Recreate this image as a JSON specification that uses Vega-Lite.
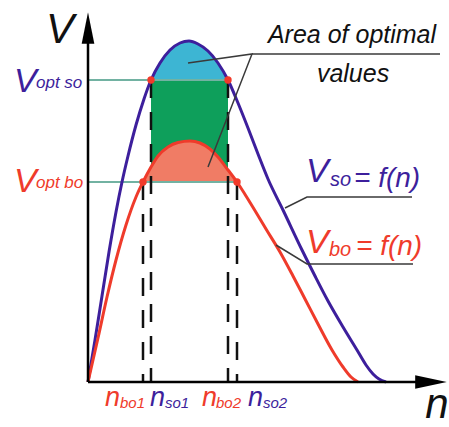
{
  "$schema": "https://vega.github.io/schema/vega-lite/v6.json",
  "width": 449,
  "height": 427,
  "autosize": {"type": "none"},
  "padding": 0,
  "background": "white",
  "config": {
    "view": {"stroke": null},
    "text": {"font": "Liberation Sans", "fontStyle": "italic", "baseline": "alphabetic", "align": "left"}
  },
  "datasets": {
    "curves": [
      {"curve": "so", "n": 0, "V": 0}, {"curve": "so", "n": 7, "V": 42}, {"curve": "so", "n": 14, "V": 86},
      {"curve": "so", "n": 21, "V": 130}, {"curve": "so", "n": 28, "V": 170}, {"curve": "so", "n": 34, "V": 200},
      {"curve": "so", "n": 40, "V": 226}, {"curve": "so", "n": 48, "V": 257}, {"curve": "so", "n": 56, "V": 283},
      {"curve": "so", "n": 63, "V": 302}, {"curve": "so", "n": 72, "V": 319}, {"curve": "so", "n": 82, "V": 332},
      {"curve": "so", "n": 92, "V": 339}, {"curve": "so", "n": 101, "V": 341}, {"curve": "so", "n": 110, "V": 338},
      {"curve": "so", "n": 120, "V": 331}, {"curve": "so", "n": 130, "V": 319}, {"curve": "so", "n": 140, "V": 302},
      {"curve": "so", "n": 150, "V": 279}, {"curve": "so", "n": 160, "V": 254}, {"curve": "so", "n": 170, "V": 228},
      {"curve": "so", "n": 180, "V": 203}, {"curve": "so", "n": 195, "V": 172}, {"curve": "so", "n": 214, "V": 132},
      {"curve": "so", "n": 227, "V": 106}, {"curve": "so", "n": 240, "V": 81}, {"curve": "so", "n": 255, "V": 55},
      {"curve": "so", "n": 269, "V": 32}, {"curve": "so", "n": 278, "V": 17}, {"curve": "so", "n": 285, "V": 8},
      {"curve": "so", "n": 291, "V": 3}, {"curve": "so", "n": 298, "V": 0},
      {"curve": "bo", "n": 0, "V": 0}, {"curve": "bo", "n": 10, "V": 44}, {"curve": "bo", "n": 19, "V": 85},
      {"curve": "bo", "n": 28, "V": 122}, {"curve": "bo", "n": 38, "V": 157}, {"curve": "bo", "n": 48, "V": 185},
      {"curve": "bo", "n": 55, "V": 200}, {"curve": "bo", "n": 63, "V": 215}, {"curve": "bo", "n": 70, "V": 226},
      {"curve": "bo", "n": 80, "V": 235}, {"curve": "bo", "n": 90, "V": 239.5}, {"curve": "bo", "n": 102, "V": 241},
      {"curve": "bo", "n": 112, "V": 239}, {"curve": "bo", "n": 122, "V": 233}, {"curve": "bo", "n": 130, "V": 225},
      {"curve": "bo", "n": 140, "V": 212}, {"curve": "bo", "n": 149, "V": 200}, {"curve": "bo", "n": 158, "V": 186},
      {"curve": "bo", "n": 166, "V": 173}, {"curve": "bo", "n": 178, "V": 153}, {"curve": "bo", "n": 192, "V": 130},
      {"curve": "bo", "n": 205, "V": 106}, {"curve": "bo", "n": 217, "V": 83}, {"curve": "bo", "n": 230, "V": 58},
      {"curve": "bo", "n": 244, "V": 32}, {"curve": "bo", "n": 255, "V": 15}, {"curve": "bo", "n": 263, "V": 5},
      {"curve": "bo", "n": 270, "V": 0}
    ],
    "crossings": [
      {"level": "bo", "n": 55, "V": 200},
      {"level": "so", "n": 63, "V": 302},
      {"level": "so", "n": 140, "V": 302},
      {"level": "bo", "n": 149, "V": 200}
    ],
    "leaders": [
      {"id": "area", "k": 1, "n": 100, "V": 319},
      {"id": "area", "k": 2, "n": 164, "V": 328},
      {"id": "area", "k": 3, "n": 120, "V": 215},
      {"id": "areaLine", "k": 1, "n": 164, "V": 328},
      {"id": "areaLine", "k": 2, "n": 352, "V": 328},
      {"id": "so", "k": 1, "n": 197, "V": 174},
      {"id": "so", "k": 2, "n": 219, "V": 185},
      {"id": "so", "k": 3, "n": 324, "V": 185},
      {"id": "bo", "k": 1, "n": 188, "V": 137},
      {"id": "bo", "k": 2, "n": 219, "V": 118},
      {"id": "bo", "k": 3, "n": 325, "V": 118}
    ],
    "axes": [
      {"axis": "V", "n": 0, "V": 0, "n2": 0, "V2": 342},
      {"axis": "n", "n": 0, "V": 0, "n2": 332, "V2": 0}
    ],
    "arrows": [
      {"axis": "V", "n": 0, "V": 354},
      {"axis": "n", "n": 343, "V": 0}
    ],
    "labels": [
      {"role": "axis", "t": "V", "n": -28, "V": 339, "curve": "ax"},
      {"role": "axis", "t": "n", "n": 349, "V": -36, "curve": "ax"},
      {"role": "sym", "t": "V", "n": -74, "V": 290, "curve": "so"},
      {"role": "sym", "t": "V", "n": -74, "V": 190, "curve": "bo"},
      {"role": "sub", "t": "opt so", "n": -52, "V": 294, "curve": "so"},
      {"role": "sub", "t": "opt bo", "n": -52, "V": 194, "curve": "bo"},
      {"role": "sym", "t": "V", "n": 218, "V": 200, "curve": "so"},
      {"role": "sym", "t": "V", "n": 218, "V": 129, "curve": "bo"},
      {"role": "sub2", "t": "so", "n": 242, "V": 196, "curve": "so"},
      {"role": "sub2", "t": "bo", "n": 241, "V": 126, "curve": "bo"},
      {"role": "eq", "t": "= f(n)", "n": 266, "V": 195, "curve": "so"},
      {"role": "eq", "t": "= f(n)", "n": 268, "V": 127, "curve": "bo"},
      {"role": "note", "t": "Area of optimal", "n": 264, "V": 339, "curve": "ax"},
      {"role": "note", "t": "values", "n": 265, "V": 300, "curve": "ax"},
      {"role": "nmain", "t": "n", "n": 17, "V": -24, "curve": "bo"},
      {"role": "nmain", "t": "n", "n": 62, "V": -24, "curve": "so"},
      {"role": "nmain", "t": "n", "n": 114, "V": -24, "curve": "bo"},
      {"role": "nmain", "t": "n", "n": 160, "V": -24, "curve": "so"},
      {"role": "nsub", "t": "bo1", "n": 32, "V": -26, "curve": "bo"},
      {"role": "nsub", "t": "so1", "n": 77, "V": -26, "curve": "so"},
      {"role": "nsub", "t": "bo2", "n": 128, "V": -26, "curve": "bo"},
      {"role": "nsub", "t": "so2", "n": 175, "V": -26, "curve": "so"}
    ]
  },
  "encoding": {
    "x": {"field": "n", "type": "quantitative", "axis": null, "scale": {"domain": [-88, 361], "nice": false, "zero": false}},
    "y": {"field": "V", "type": "quantitative", "axis": null, "scale": {"domain": [-45, 382], "nice": false, "zero": false}}
  },
  "layer": [
    {
      "data": {"name": "curves"},
      "transform": [{"filter": "datum.curve == 'bo' && datum.n >= 63 && datum.n <= 140"}],
      "mark": {"type": "area", "color": "#0e9f5b", "interpolate": "monotone", "opacity": 1},
      "encoding": {"y2": {"datum": 302}}
    },
    {
      "data": {"name": "curves"},
      "transform": [{"filter": "datum.curve == 'so' && datum.n >= 63 && datum.n <= 140"}],
      "mark": {"type": "area", "color": "#3db5d3", "interpolate": "monotone", "opacity": 1},
      "encoding": {"y2": {"datum": 302}}
    },
    {
      "data": {"name": "curves"},
      "transform": [{"filter": "datum.curve == 'bo' && datum.n >= 55 && datum.n <= 149"}],
      "mark": {"type": "area", "color": "#f07c65", "interpolate": "monotone", "opacity": 1},
      "encoding": {"y2": {"datum": 200}}
    },
    {
      "data": {"name": "crossings"},
      "mark": {"type": "rule", "color": "#72b2a2", "strokeWidth": 2},
      "encoding": {"x": {"datum": 0}, "x2": {"field": "n"}}
    },
    {
      "data": {"name": "crossings"},
      "mark": {"type": "rule", "color": "#111111", "strokeWidth": 2.5, "strokeDash": [18, 14]},
      "encoding": {"y2": {"datum": 0}}
    },
    {
      "data": {"name": "curves"},
      "mark": {"type": "line", "interpolate": "monotone", "strokeWidth": 3},
      "encoding": {
        "color": {"field": "curve", "type": "nominal", "legend": null,
          "scale": {"domain": ["so", "bo", "ax"], "range": ["#3d1f9c", "#ef3b2b", "#111111"]}}
      }
    },
    {
      "data": {"name": "crossings"},
      "mark": {"type": "point", "filled": true, "color": "#f23a2a", "size": 55, "opacity": 1}
    },
    {
      "data": {"name": "leaders"},
      "mark": {"type": "line", "color": "#3a3a3a", "strokeWidth": 1.5},
      "encoding": {"detail": {"field": "id"}, "order": {"field": "k"}}
    },
    {
      "data": {"name": "axes"},
      "mark": {"type": "rule", "color": "#000000", "strokeWidth": 2.5},
      "encoding": {"x2": {"field": "n2"}, "y2": {"field": "V2"}}
    },
    {
      "data": {"name": "arrows"},
      "mark": {"type": "point", "filled": true, "color": "#000000", "size": 1000, "opacity": 1, "strokeWidth": 0},
      "encoding": {
        "shape": {"field": "axis", "type": "nominal", "legend": null,
          "scale": {"domain": ["V", "n"], "range": ["M0,-1L0.4,1L-0.4,1Z", "M1,0L-1,-0.42L-1,0.42Z"]}}
      }
    },
    {
      "data": {"name": "labels"},
      "transform": [{"filter": "datum.role == 'axis'"}],
      "mark": {"type": "text", "fontSize": 42, "align": "center"},
      "encoding": {"text": {"field": "t"}, "color": {"field": "curve", "type": "nominal", "legend": null}}
    },
    {
      "data": {"name": "labels"},
      "transform": [{"filter": "datum.role == 'sym'"}],
      "mark": {"type": "text", "fontSize": 34},
      "encoding": {"text": {"field": "t"}, "color": {"field": "curve", "type": "nominal", "legend": null}}
    },
    {
      "data": {"name": "labels"},
      "transform": [{"filter": "datum.role == 'sub'"}],
      "mark": {"type": "text", "fontSize": 17},
      "encoding": {"text": {"field": "t"}, "color": {"field": "curve", "type": "nominal", "legend": null}}
    },
    {
      "data": {"name": "labels"},
      "transform": [{"filter": "datum.role == 'sub2'"}],
      "mark": {"type": "text", "fontSize": 20},
      "encoding": {"text": {"field": "t"}, "color": {"field": "curve", "type": "nominal", "legend": null}}
    },
    {
      "data": {"name": "labels"},
      "transform": [{"filter": "datum.role == 'eq'"}],
      "mark": {"type": "text", "fontSize": 28},
      "encoding": {"text": {"field": "t"}, "color": {"field": "curve", "type": "nominal", "legend": null}}
    },
    {
      "data": {"name": "labels"},
      "transform": [{"filter": "datum.role == 'note'"}],
      "mark": {"type": "text", "fontSize": 25, "align": "center"},
      "encoding": {"text": {"field": "t"}, "color": {"field": "curve", "type": "nominal", "legend": null}}
    },
    {
      "data": {"name": "labels"},
      "transform": [{"filter": "datum.role == 'nmain'"}],
      "mark": {"type": "text", "fontSize": 27},
      "encoding": {"text": {"field": "t"}, "color": {"field": "curve", "type": "nominal", "legend": null}}
    },
    {
      "data": {"name": "labels"},
      "transform": [{"filter": "datum.role == 'nsub'"}],
      "mark": {"type": "text", "fontSize": 15},
      "encoding": {"text": {"field": "t"}, "color": {"field": "curve", "type": "nominal", "legend": null}}
    }
  ]
}
